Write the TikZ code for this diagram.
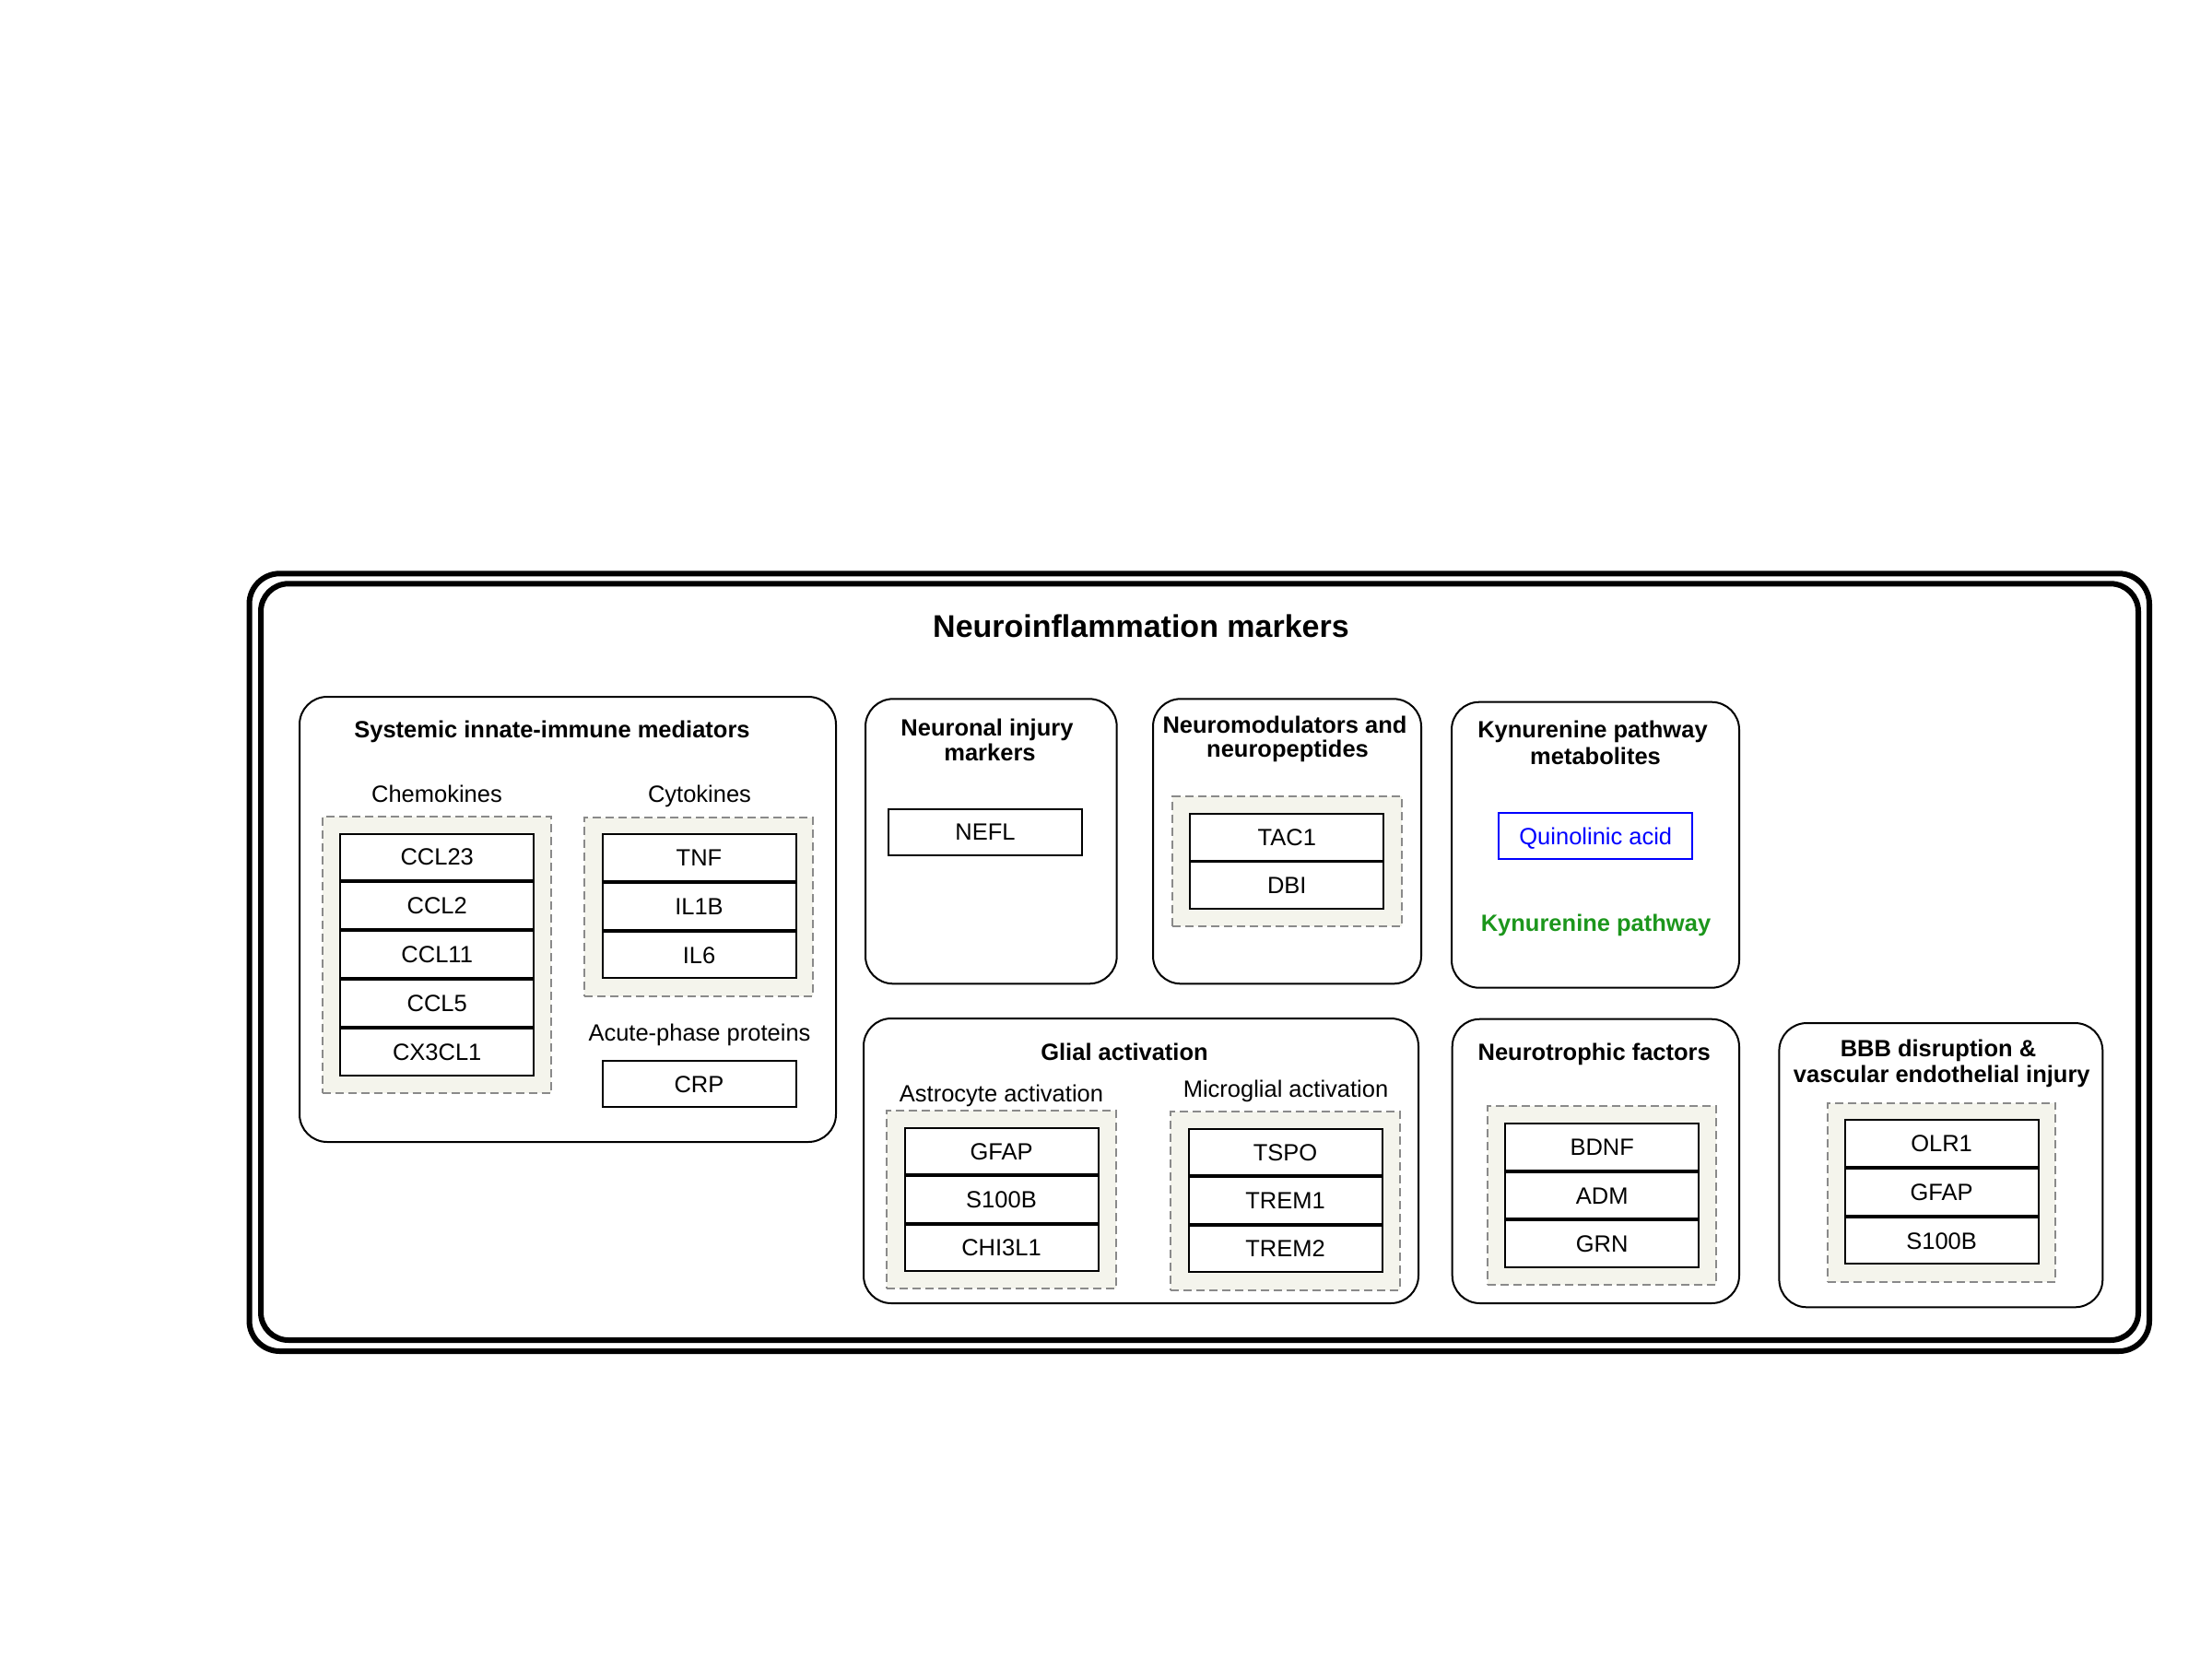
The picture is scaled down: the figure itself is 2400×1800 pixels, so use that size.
\documentclass[tikz,border=0pt]{standalone}
\usepackage{fontspec}
\setmainfont{Liberation Sans}
\definecolor{dashgrey}{HTML}{8A8A8A}
\definecolor{beige}{HTML}{F4F4EC}
\definecolor{kgreen}{RGB}{28,150,28}
\definecolor{qblue}{HTML}{0000FF}
\newcommand\boxat[6]{%
  \node[#1, minimum width={(#5-#3)*0.5pt}, minimum height={(#6-#4)*0.5pt}] (#2) at ({(#3+#5)/2},{(#4+#6)/2}) {};}
\begin{document}
\begin{tikzpicture}[x=0.5pt,y=-0.5pt,
  frame/.style={draw=black, line width=3pt, inner sep=0pt, outer sep=0pt, rectangle},
  grp/.style={draw=black, line width=1pt, rounded corners=15pt, inner sep=0pt, rectangle},
  dbox/.style={draw=dashgrey, fill=beige, line width=1pt, dash pattern=on 4.5pt off 2.5pt, inner sep=0pt, rectangle},
  gene/.style={draw=black, fill=white, line width=1pt, minimum width=105pt, minimum height=25.25pt,
    inner sep=0pt, font=\fontsize{12.75}{15.3}\selectfont, text height=9.15pt, text depth=0pt},
  lbl/.style={anchor=base, inner sep=0pt, font=\fontsize{12.75}{15.3}\selectfont},
  ttl/.style={anchor=base, inner sep=0pt, font=\fontsize{12.75}{15.3}\selectfont\bfseries}]
\useasboundingbox (0,0) rectangle (2400,1800);
% frames
\boxat{frame, rounded corners=16.5pt}{outerframe}{270.5}{622.3}{2332}{1466}
\boxat{frame, rounded corners=15pt}{innerframe}{283}{633.3}{2320}{1454}
\node[anchor=base, inner sep=0pt, font=\fontsize{17}{20}\selectfont\bfseries] (maintitle) at (1238,691.7) {Neuroinflammation markers};
% Systemic innate-immune mediators
\boxat{grp}{sim}{325}{756}{907}{1239}
\node[ttl] (simt) at (599,800.7) {Systemic innate-immune mediators};
\node[lbl] (chemot) at (474,870) {Chemokines};
\node[lbl] (cytot) at (759,870) {Cytokines};
\boxat{dbox}{chemod}{349.6}{886}{598.4}{1185.7}
\boxat{dbox}{cytod}{634}{886.7}{882}{1080.7}
\node[gene] (ccl23) at (474.2,929.75) {CCL23};
\node[gene] (ccl2) at (474.2,982.65) {CCL2};
\node[gene] (ccl11) at (474.2,1035.55) {CCL11};
\node[gene] (ccl5) at (474.2,1088.45) {CCL5};
\node[gene] (cx3cl1) at (474.2,1141.35) {CX3CL1};
\node[gene] (tnf) at (758.5,930.65) {TNF};
\node[gene] (il1b) at (758.5,983.35) {IL1B};
\node[gene] (il6) at (758.5,1036.05) {IL6};
\node[lbl] (acutet) at (759,1129.3) {Acute-phase proteins};
\node[gene] (crp) at (758.5,1176.2) {CRP};
% Neuronal injury markers
\boxat{grp}{neur}{939}{758.3}{1211.7}{1067.3}
\node[ttl] (neurt1) at (1071,798.3) {Neuronal injury};
\node[ttl] (neurt2) at (1074,825) {markers};
\node[gene] (nefl) at (1069,902.8) {NEFL};
% Neuromodulators
\boxat{grp}{nmod}{1251}{758.3}{1542}{1067.3}
\node[ttl] (nmodt1) at (1394,795) {Neuromodulators and};
\node[ttl] (nmodt2) at (1397,821.7) {neuropeptides};
\boxat{dbox}{nmodd}{1272}{864.3}{1521}{1005}
\node[gene] (tac1) at (1396.3,908.4) {TAC1};
\node[gene] (dbi) at (1396.3,960.6) {DBI};
% Kynurenine
\boxat{grp}{kyn}{1575}{761.7}{1887}{1071.7}
\node[ttl] (kynt1) at (1728,800.7) {Kynurenine pathway};
\node[ttl] (kynt2) at (1731,829) {metabolites};
\node[gene, draw=qblue, text=qblue] (quin) at (1731.3,907.2) {Quinolinic acid};
\node[ttl, text=kgreen] (kynpath) at (1731.5,1010) {Kynurenine pathway};
% Glial activation
\boxat{grp}{glial}{937}{1105}{1539}{1414}
\node[ttl] (glialt) at (1220,1150.7) {Glial activation};
\node[lbl] (astrot) at (1086.5,1195) {Astrocyte activation};
\node[lbl] (microt) at (1395,1190.7) {Microglial activation};
\boxat{dbox}{astrod}{962}{1205}{1211}{1398.3}
\boxat{dbox}{microd}{1270.3}{1206}{1518.7}{1399.7}
\node[gene] (gfapa) at (1086.5,1248.9) {GFAP};
\node[gene] (s100ba) at (1086.5,1301.35) {S100B};
\node[gene] (chi3l1) at (1086.5,1353.8) {CHI3L1};
\node[gene] (tspo) at (1394.6,1250.2) {TSPO};
\node[gene] (trem1) at (1394.6,1302.5) {TREM1};
\node[gene] (trem2) at (1394.6,1354.8) {TREM2};
% Neurotrophic factors
\boxat{grp}{ntf}{1575.7}{1105.7}{1887}{1414}
\node[ttl] (ntft) at (1729.7,1150.7) {Neurotrophic factors};
\boxat{dbox}{ntfd}{1614.4}{1200}{1862}{1394}
\node[gene] (bdnf) at (1738.2,1244.3) {BDNF};
\node[gene] (adm) at (1738.2,1296.85) {ADM};
\node[gene] (grn) at (1738.2,1349.4) {GRN};
% BBB
\boxat{grp}{bbb}{1930.4}{1110}{2281.3}{1418.3}
\node[ttl] (bbbt1) at (2103,1146.7) {BBB disruption \&};
\node[ttl] (bbbt2) at (2106.8,1174) {vascular endothelial injury};
\boxat{dbox}{bbbd}{1982.8}{1196.7}{2230.3}{1390.7}
\node[gene] (olr1) at (2106.6,1240.6) {OLR1};
\node[gene] (gfapb) at (2106.6,1293.3) {GFAP};
\node[gene] (s100bb) at (2106.6,1346) {S100B};
\end{tikzpicture}
\end{document}
